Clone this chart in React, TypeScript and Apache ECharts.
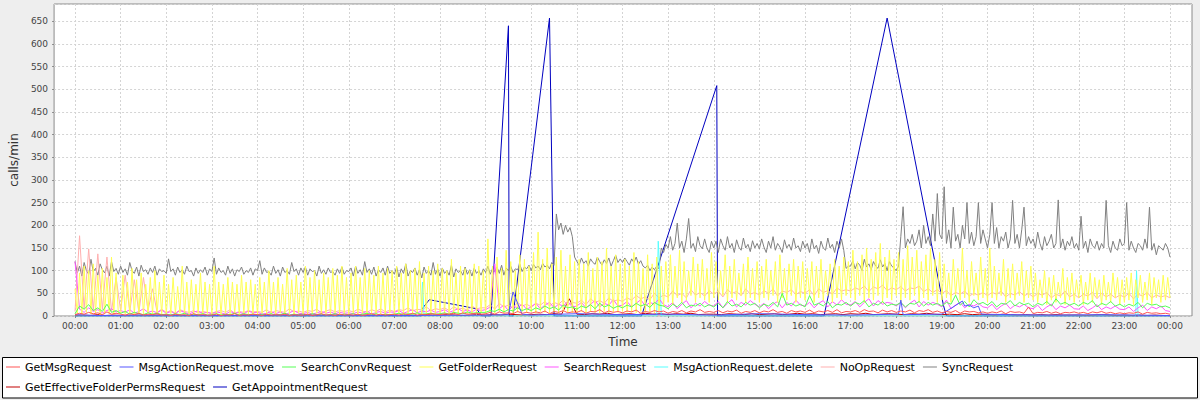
import React, { useEffect, useRef } from "react";
import * as echarts from "echarts";

const SERIES_NAMES = [
  "GetMsgRequest",
  "MsgActionRequest.move",
  "SearchConvRequest",
  "GetFolderRequest",
  "SearchRequest",
  "MsgActionRequest.delete",
  "NoOpRequest",
  "SyncRequest",
  "GetEffectiveFolderPermsRequest",
  "GetAppointmentRequest",
];
const SERIES_COLORS = ["#FF5555", "#5555FF", "#55FF55", "#FFFF55", "#FF55FF", "#55FFFF", "#FFAFAF", "#808080", "#C00000", "#0000C0"];

// sampling step (minutes) of the dense series
const STEP_3 = 3;
const STEP_6 = 6;
const STEP_10 = 10;

// SyncRequest, every 3 minutes from 00:00 (20 per hour)
const syncRequest = [
  120, 95, 110, 88, 118, 100, 92, 125, 98, 105, 90, 115, 102, 95, 110, 88, 120, 98, 105, 92,
  110, 96, 104, 90, 118, 100, 94, 108, 88, 112, 98, 102, 92, 106, 96, 110, 90, 104, 98, 100,
  94, 126, 98, 104, 90, 108, 96, 102, 92, 110, 98, 100, 88, 106, 94, 102, 96, 108, 90, 104,
  98, 128, 92, 106, 96, 100, 90, 110, 94, 104, 88, 102, 98, 108, 92, 100, 96, 106, 90, 104,
  100, 122, 92, 106, 96, 98, 90, 110, 94, 102, 88, 108, 96, 100, 92, 118, 98, 104, 90, 106,
  96, 108, 90, 104, 98, 100, 88, 110, 94, 102, 92, 106, 96, 98, 90, 104, 94, 108, 92, 100,
  98, 106, 88, 110, 94, 102, 90, 120, 96, 104, 92, 108, 88, 102, 96, 106, 90, 110, 94, 100,
  92, 108, 86, 104, 94, 115, 88, 100, 96, 106, 90, 102, 84, 108, 94, 100, 90, 118, 92, 104,
  88, 106, 94, 100, 90, 112, 86, 104, 96, 100, 90, 108, 92, 102, 88, 106, 94, 100, 90, 104,
  96, 110, 92, 104, 98, 108, 94, 112, 90, 106, 100, 110, 96, 104, 102, 114, 98, 108, 104, 112,
  100, 114, 106, 110, 102, 116, 108, 112, 104, 118, 112, 225, 190, 205, 180, 200, 185, 195, 175, 130,
  120, 112, 128, 116, 122, 110, 126, 118, 114, 130, 120, 112, 124, 116, 128, 110, 122, 134, 118, 126,
  118, 128, 120, 112, 126, 118, 130, 114, 122, 110, 106, 112, 100, 108, 102, 110, 104, 150, 140, 158,
  150, 175, 145, 160, 205, 150, 165, 140, 170, 215, 150, 160, 142, 175, 155, 148, 170, 150, 140, 165,
  150, 165, 140, 170, 155, 145, 175, 150, 160, 140, 168, 152, 145, 172, 150, 158, 142, 166, 150, 160,
  148, 170, 152, 140, 165, 150, 175, 145, 160, 152, 140, 168, 150, 158, 145, 172, 150, 155, 142, 165,
  150, 160, 140, 170, 148, 156, 138, 165, 150, 145, 172, 150, 158, 140, 165, 150, 170, 145, 105, 110,
  110, 122, 104, 118, 112, 100, 125, 108, 115, 102, 120, 110, 105, 124, 108, 116, 100, 120, 110, 106,
  100, 110, 175, 241, 150, 170, 160, 180, 155, 165, 190, 150, 200, 160, 175, 155, 225, 165, 270, 180,
  170, 285, 160, 190, 150, 240, 165, 180, 150, 200, 170, 250, 160, 185, 155, 175, 250, 160, 190, 170,
  150, 180, 250, 160, 195, 150, 175, 165, 185, 150, 170, 255, 160, 180, 150, 190, 240, 155, 175, 160,
  170, 150, 185, 160, 145, 175, 155, 165, 180, 150, 160, 256, 150, 170, 145, 165, 155, 175, 150, 160,
  145, 220, 150, 165, 140, 170, 155, 150, 165, 145, 160, 150, 255, 155, 140, 165, 150, 145, 170, 155,
  160, 250, 145, 165, 150, 140, 160, 155, 145, 170, 150, 240, 145, 160, 135, 155, 150, 145, 160, 150,
  130,
];

// GetFolderRequest, every 3 minutes from 00:00 (20 per hour)
const getFolderRequest = [
  60, 5, 95, 3, 110, 8, 100, 4, 115, 6, 90, 3, 105, 7, 85, 5, 130, 4, 95, 6,
  5, 90, 4, 75, 6, 105, 3, 80, 5, 95, 4, 70, 7, 85, 3, 100, 5, 75, 4, 90,
  3, 70, 5, 85, 4, 65, 6, 110, 3, 75, 5, 80, 4, 70, 6, 95, 3, 75, 5, 70,
  4, 110, 5, 75, 3, 70, 6, 85, 4, 75, 5, 70, 3, 90, 6, 75, 4, 80, 5, 70,
  3, 85, 6, 75, 4, 100, 5, 75, 3, 85, 6, 70, 4, 105, 5, 80, 3, 90, 6, 75,
  4, 110, 5, 85, 3, 100, 6, 80, 4, 95, 5, 85, 3, 105, 6, 90, 4, 110, 5, 85,
  3, 95, 6, 110, 4, 85, 5, 105, 3, 100, 6, 90, 4, 110, 5, 95, 3, 105, 6, 100,
  4, 110, 5, 95, 3, 115, 6, 100, 4, 105, 5, 120, 3, 95, 6, 110, 4, 100, 5, 115,
  3, 105, 6, 100, 4, 125, 5, 95, 3, 110, 6, 105, 4, 100, 5, 115, 3, 110, 6, 100,
  5, 170, 8, 110, 6, 130, 10, 105, 7, 145, 9, 120, 6, 100, 8, 135, 10, 125, 7, 110,
  9, 140, 6, 185, 10, 125, 8, 150, 7, 115, 9, 130, 6, 145, 10, 110, 8, 135, 7, 120,
  8, 125, 10, 115, 7, 140, 9, 105, 8, 130, 6, 120, 10, 150, 7, 110, 9, 135, 8, 115,
  10, 125, 8, 110, 9, 140, 7, 120, 10, 105, 8, 135, 9, 115, 7, 130, 10, 110, 20, 120,
  30, 135, 25, 110, 40, 145, 30, 120, 35, 100, 45, 130, 30, 115, 40, 125, 35, 105, 30, 140,
  40, 120, 35, 100, 45, 135, 30, 110, 40, 125, 35, 95, 45, 115, 30, 130, 40, 105, 35, 120,
  30, 110, 40, 125, 35, 100, 45, 120, 30, 135, 40, 105, 35, 115, 45, 125, 30, 110, 40, 120,
  35, 105, 45, 120, 30, 110, 40, 125, 35, 100, 45, 115, 30, 125, 40, 110, 35, 130, 45, 120,
  40, 145, 35, 120, 45, 135, 30, 150, 40, 125, 35, 140, 45, 160, 30, 130, 40, 145, 35, 125,
  45, 140, 30, 125, 40, 155, 35, 130, 45, 145, 30, 120, 40, 135, 35, 150, 45, 125, 30, 140,
  35, 115, 40, 95, 30, 125, 45, 105, 35, 150, 40, 100, 30, 120, 45, 95, 35, 130, 40, 105,
  30, 150, 40, 110, 35, 95, 45, 125, 30, 105, 40, 115, 35, 95, 45, 120, 30, 100, 40, 110,
  35, 95, 30, 80, 40, 100, 25, 85, 35, 90, 30, 75, 40, 105, 25, 85, 35, 95, 30, 80,
  40, 90, 25, 75, 35, 95, 30, 85, 40, 80, 25, 90, 35, 75, 30, 95, 40, 85, 25, 80,
  30, 85, 35, 95, 25, 80, 40, 90, 30, 75, 35, 95, 25, 85, 40, 80, 30, 90, 35, 85,
  40,
];

// NoOpRequest, every 6 minutes (10 per hour)
const noOpRequest = [
  10, 177, 15, 148, 12, 137, 14, 130, 10, 85,
  12, 90, 10, 80, 8, 85, 12, 60, 8, 15,
  8, 12, 6, 14, 10, 8, 12, 6, 10, 8,
  6, 10, 12, 8, 14, 6, 10, 8, 12, 9,
  10, 8, 14, 6, 12, 10, 8, 16, 9, 11,
  8, 12, 10, 15, 7, 11, 14, 9, 12, 10,
  12, 9, 15, 11, 8, 14, 10, 16, 9, 13,
  10, 14, 12, 18, 11, 15, 13, 20, 12, 16,
  14, 18, 12, 20, 15, 17, 13, 22, 16, 18,
  18, 25, 15, 28, 20, 24, 18, 30, 22, 26,
  20, 28, 24, 32, 22, 30, 26, 35, 24, 30,
  28, 35, 25, 38, 30, 34, 28, 40, 32, 36,
  32, 40, 35, 45, 38, 42, 36, 50, 40, 46,
  42, 55, 45, 50, 40, 58, 46, 52, 44, 56,
  48, 55, 42, 58, 50, 54, 45, 60, 48, 52,
  46, 56, 50, 60, 44, 55, 52, 58, 47, 54,
  50, 58, 45, 60, 52, 56, 48, 62, 55, 58,
  55, 62, 58, 66, 54, 64, 60, 68, 56, 62,
  58, 65, 55, 62, 60, 66, 54, 60, 52, 58,
  50, 56, 45, 52, 48, 55, 44, 50, 46, 52,
  45, 52, 48, 55, 42, 50, 46, 54, 44, 50,
  42, 50, 46, 52, 40, 48, 44, 55, 42, 48,
  40, 48, 44, 52, 38, 50, 42, 48, 40, 46,
  42, 50, 38, 48, 44, 52, 40, 46, 42, 45,
  40,
];

// SearchRequest, every 6 minutes
const searchRequest = [
  120, 15, 8, 18, 10, 14, 7, 12, 16, 9,
  12, 8, 14, 6, 10, 16, 8, 11, 7, 13,
  6, 10, 5, 12, 8, 4, 9, 11, 6, 8,
  5, 9, 7, 4, 10, 6, 8, 5, 11, 7,
  8, 4, 6, 10, 5, 9, 3, 7, 12, 6,
  5, 8, 4, 7, 10, 6, 9, 5, 8, 6,
  7, 5, 9, 6, 11, 4, 8, 10, 6, 9,
  8, 12, 6, 10, 14, 7, 11, 9, 13, 8,
  10, 14, 8, 12, 16, 10, 13, 9, 15, 12,
  14, 20, 115, 16, 24, 12, 22, 18, 26, 15,
  20, 28, 16, 24, 30, 18, 26, 22, 32, 20,
  22, 30, 18, 26, 34, 20, 28, 24, 36, 22,
  24, 32, 20, 28, 36, 22, 30, 26, 38, 25,
  20, 30, 16, 26, 34, 18, 28, 22, 32, 24,
  22, 32, 18, 28, 36, 20, 30, 24, 34, 26,
  20, 28, 16, 26, 32, 18, 30, 22, 35, 24,
  22, 30, 18, 28, 34, 20, 32, 24, 36, 26,
  24, 32, 20, 30, 38, 22, 34, 26, 30, 28,
  22, 30, 18, 28, 35, 20, 32, 24, 30, 26,
  20, 35, 16, 24, 30, 18, 26, 22, 28, 20,
  18, 26, 14, 22, 28, 16, 24, 20, 26, 18,
  16, 24, 12, 20, 26, 14, 22, 18, 24, 16,
  15, 22, 12, 18, 25, 14, 20, 16, 22, 15,
  14, 20, 10, 18, 24, 12, 20, 16, 22, 12,
  10,
];

// SearchConvRequest, every 6 minutes
const searchConvRequest = [
  5, 22, 15, 25, 12, 18, 10, 26, 8, 12,
  6, 10, 4, 8, 5, 3, 7, 4, 6, 3,
  4, 2, 5, 3, 6, 2, 4, 3, 5, 2,
  3, 5, 2, 4, 3, 6, 2, 5, 3, 4,
  2, 4, 3, 5, 2, 3, 6, 2, 4, 3,
  4, 2, 5, 3, 4, 2, 3, 5, 2, 4,
  3, 5, 2, 4, 6, 3, 5, 2, 4, 3,
  4, 6, 3, 5, 4, 7, 3, 5, 6, 4,
  5, 7, 4, 8, 6, 5, 9, 6, 7, 8,
  8, 12, 10, 15, 9, 14, 11, 18, 12, 16,
  12, 18, 14, 22, 16, 20, 13, 24, 18, 20,
  15, 22, 18, 25, 16, 28, 20, 24, 17, 22,
  18, 24, 20, 28, 22, 26, 19, 30, 24, 22,
  16, 26, 20, 30, 18, 24, 22, 28, 20, 25,
  20, 28, 18, 32, 22, 26, 20, 30, 24, 28,
  18, 26, 22, 30, 20, 50, 24, 28, 22, 26,
  20, 45, 24, 28, 22, 32, 18, 26, 24, 30,
  22, 30, 26, 34, 20, 28, 24, 32, 22, 26,
  24, 30, 20, 28, 26, 32, 22, 30, 24, 28,
  22, 30, 26, 46, 24, 32, 20, 36, 26, 30,
  24, 32, 20, 28, 26, 34, 22, 30, 25, 28,
  20, 28, 24, 32, 22, 38, 26, 30, 24, 28,
  22, 30, 26, 34, 20, 28, 24, 32, 22, 26,
  20, 26, 22, 30, 18, 28, 24, 26, 20, 22,
  18,
];

// GetMsgRequest, every 6 minutes
const getMsgRequest = [
  3, 6, 4, 8, 5, 7, 3, 9, 4, 6,
  4, 2, 5, 3, 6, 2, 4, 3, 5, 2,
  3, 1, 4, 2, 3, 1, 5, 2, 3, 2,
  2, 4, 1, 3, 2, 5, 1, 3, 2, 4,
  3, 1, 4, 2, 3, 2, 4, 1, 3, 2,
  2, 4, 1, 3, 5, 2, 3, 1, 4, 2,
  3, 2, 4, 1, 3, 5, 2, 4, 2, 3,
  4, 2, 5, 3, 6, 2, 4, 3, 5, 4,
  3, 5, 4, 6, 3, 7, 4, 5, 6, 4,
  5, 8, 4, 9, 6, 7, 5, 10, 6, 8,
  6, 9, 7, 11, 5, 10, 8, 12, 7, 9,
  8, 12, 6, 10, 9, 14, 7, 11, 8, 10,
  7, 11, 9, 13, 6, 10, 8, 12, 9, 11,
  6, 10, 8, 12, 7, 11, 9, 14, 8, 10,
  8, 12, 7, 11, 9, 13, 6, 10, 8, 12,
  7, 11, 9, 14, 8, 10, 6, 12, 9, 11,
  8, 13, 7, 11, 9, 12, 8, 14, 7, 10,
  9, 12, 8, 14, 10, 11, 7, 13, 9, 12,
  8, 11, 9, 13, 7, 12, 10, 14, 8, 11,
  7, 10, 8, 12, 6, 11, 9, 10, 7, 9,
  6, 9, 7, 11, 5, 10, 8, 9, 6, 20,
  5, 8, 7, 10, 6, 9, 5, 8, 7, 9,
  6, 8, 5, 9, 7, 10, 6, 8, 5, 7,
  5, 7, 6, 9, 4, 8, 6, 7, 5, 6,
  4,
];

// GetEffectiveFolderPermsRequest, every 10 minutes (6 per hour)
const getEffectiveFolderPermsRequest = [
  1, 2, 1, 3, 1, 2,
  1, 1, 2, 1, 1, 2,
  1, 2, 1, 1, 2, 1,
  1, 1, 2, 1, 2, 1,
  2, 1, 1, 2, 1, 1,
  1, 2, 1, 1, 2, 1,
  1, 1, 2, 1, 1, 2,
  2, 1, 2, 1, 3, 2,
  2, 3, 2, 1, 2, 3,
  2, 3, 2, 4, 3, 2,
  3, 4, 3, 5, 4, 38,
  4, 3, 5, 4, 6, 3,
  4, 5, 3, 6, 4, 5,
  3, 5, 4, 6, 3, 4,
  4, 3, 5, 4, 3, 5,
  3, 4, 5, 3, 4, 6,
  4, 5, 3, 4, 5, 3,
  5, 4, 6, 3, 4, 5,
  4, 3, 5, 4, 6, 4,
  3, 4, 3, 5, 3, 4,
  3, 2, 4, 3, 2, 3,
  2, 3, 2, 3, 2, 2,
  2, 1, 2, 3, 2, 1,
  2, 1, 2, 1, 2, 1,
  1,
];

// sparse series as [minute, value]
const msgActionMove = [
  [0, 3], [30, 1], [90, 2], [180, 1], [300, 2], [420, 1], [540, 2], [570, 3], [576, 53], [588, 4],
  [600, 2], [660, 5], [720, 3], [780, 4], [840, 2], [900, 5], [960, 3], [1020, 2], [1083, 4],
  [1086, 35], [1089, 3], [1140, 4], [1167, 33], [1170, 22], [1176, 24], [1182, 18], [1188, 22],
  [1192, 4], [1230, 3], [1290, 2], [1350, 3], [1395, 2], [1440, 1],
];
const msgActionDelete = [
  [0, 0], [455, 0], [457, 75], [459, 0], [765, 0], [767, 165], [769, 100], [771, 0],
  [1395, 0], [1396, 100], [1398, 0], [1440, 0],
];
const getAppointmentRequest = [
  [0, 0], [455, 0], [457, 17], [466, 36], [528, 16], [535, 0], [547, 0], [570, 640], [571, 0],
  [576, 0], [624, 657], [630, 0], [745, 0], [844, 508], [845, 0], [985, 0], [1068, 657],
  [1142, 24], [1146, 0], [1440, 0],
];

const dense = (vals: number[], step: number) => vals.map((v, i) => [i * step, v]);

const SERIES_DATA: Record<string, number[][]> = {
  GetMsgRequest: dense(getMsgRequest, STEP_6),
  "MsgActionRequest.move": msgActionMove,
  SearchConvRequest: dense(searchConvRequest, STEP_6),
  GetFolderRequest: dense(getFolderRequest, STEP_3),
  SearchRequest: dense(searchRequest, STEP_6),
  "MsgActionRequest.delete": msgActionDelete,
  NoOpRequest: dense(noOpRequest, STEP_6),
  SyncRequest: dense(syncRequest, STEP_3),
  GetEffectiveFolderPermsRequest: dense(getEffectiveFolderPermsRequest, STEP_10),
  GetAppointmentRequest: getAppointmentRequest,
};

const FONT = "DejaVu Sans";
const GRID_LINE = { color: "#D4D4D4", type: [2, 2] as number[], width: 1 };

export default function App() {
  const ref = useRef<HTMLDivElement>(null);
  useEffect(() => {
    if (!ref.current) return;
    const chart = echarts.init(ref.current, undefined, { renderer: "svg" });
    const seriesList = SERIES_NAMES.map((name, i) => ({
      name,
      type: "line",
      xAxisIndex: 0,
      yAxisIndex: 0,
      data: SERIES_DATA[name],
      showSymbol: false,
      symbol: "none",
      silent: true,
      color: SERIES_COLORS[i],
      itemStyle: { color: SERIES_COLORS[i] },
      lineStyle: { color: SERIES_COLORS[i], width: 1 },
      emphasis: { disabled: true },
    }));
    const pad = (n: number) => (n < 10 ? "0" : "") + n;
    chart.setOption({
      animation: false,
      backgroundColor: "#EEEEEE",
      textStyle: { fontFamily: FONT },
      grid: [
        { left: 75, right: 30, top: 4, bottom: 84, show: false },
        {
          left: 53, right: 8, top: 4, bottom: 84, show: true,
          backgroundColor: "#FFFFFF", borderColor: "#8A8A8A", borderWidth: 1,
        },
      ],
      xAxis: [
        {
          type: "value", gridIndex: 0, min: 0, max: 1440, interval: 60,
          axisLine: { show: false },
          axisTick: { show: true, length: 2, lineStyle: { color: "#8A8A8A" } },
          axisLabel: {
            margin: 5, fontSize: 9, color: "#444444", fontFamily: FONT,
            formatter: (v: number) => pad(Math.round(v / 60) % 24) + ":00",
          },
          splitLine: { show: true, lineStyle: GRID_LINE },
        },
        {
          type: "value", gridIndex: 1, min: 0, max: 1,
          axisLine: { show: false }, axisTick: { show: false },
          axisLabel: { show: false }, splitLine: { show: false },
          name: "Time", nameLocation: "middle", nameGap: 20,
          nameTextStyle: { fontSize: 12, color: "#333333", fontFamily: FONT },
        },
      ],
      yAxis: [
        { type: "value", gridIndex: 0, min: 0, max: 688, show: false },
        {
          type: "value", gridIndex: 1, min: 0, max: 688, interval: 50,
          axisLine: { show: false },
          axisTick: { show: true, length: 2, lineStyle: { color: "#8A8A8A" } },
          axisLabel: { margin: 6, fontSize: 9, color: "#444444", fontFamily: FONT, showMaxLabel: false },
          splitLine: { show: true, lineStyle: GRID_LINE },
          name: "calls/min", nameLocation: "middle", nameRotate: 90, nameGap: 29,
          nameTextStyle: { fontSize: 12, color: "#333333", fontFamily: FONT },
        },
      ],
      legend: {
        data: SERIES_NAMES.map((name, i) => ({
          name,
          icon: "rect",
          itemStyle: { color: SERIES_COLORS[i], borderWidth: 0 },
        })),
        left: 6, top: 361, padding: 0, itemGap: 8, itemWidth: 14, itemHeight: 1,
        icon: "rect",
        selectedMode: false,
        textStyle: { fontFamily: FONT, fontSize: 11, color: "#000000", lineHeight: 12 },
      },
      graphic: [
        {
          type: "rect", silent: true, z: 0,
          shape: { x: 2.5, y: 357.5, width: 1195, height: 40.5 },
          style: { fill: "#FFFFFF", stroke: "#000000", lineWidth: 1 },
        },
      ],
      series: seriesList.slice().reverse(),
    });
    return () => chart.dispose();
  }, []);
  return (
    <div
      ref={ref}
      style={{ position: "fixed", left: 0, top: 0, width: 1200, height: 400 }}
    />
  );
}
